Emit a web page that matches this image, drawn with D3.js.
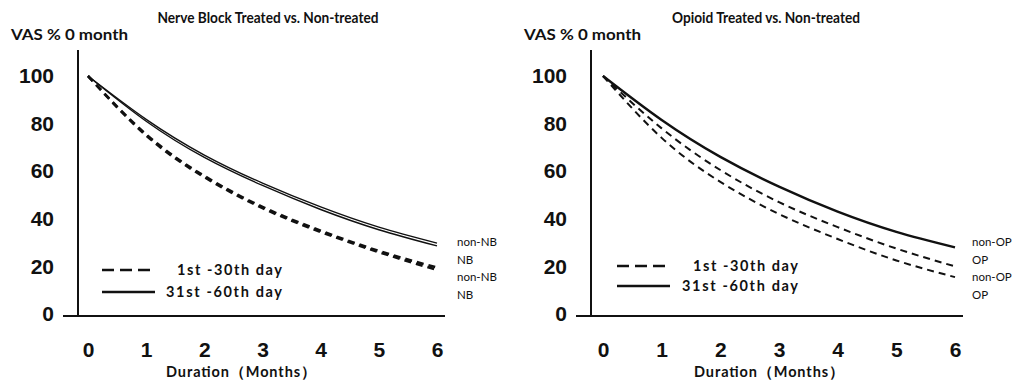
<!DOCTYPE html>
<html>
<head>
<meta charset="utf-8">
<script src="https://cdn.jsdelivr.net/npm/d3@7"></script>
<style>
  body { margin: 0; background: #fff; }
  .lbl { font-family: Lato, "Open Sans", sans-serif; font-weight: bold; fill: #111; }
  .tick text { font-family: "Liberation Sans", Arial, sans-serif; font-weight: bold; font-size: 21px; fill: #111; }
  .end { font-family: Lato, "Open Sans", sans-serif; font-size: 11.5px; fill: #111; }
</style>
</head>
<body>
<svg id="chart" width="1015" height="380"></svg>
<script>
// months on the x axis
const months = [0, 1, 2, 3, 4, 5, 6];
const yTicks = [0, 20, 40, 60, 80, 100];

// Nerve block panel (VAS % of month 0)
const nbLate_non = [100, 81.8, 66.8, 55, 45, 36.5, 29.8];
const nbLate_nb = [100, 81, 65.8, 54, 43.9, 35.4, 28.6];
const nbEarly_non = [100, 75.5, 58, 45, 35, 26.5, 19.5];
const nbEarly_nb = [100, 75, 57.5, 44.5, 34.5, 26, 18.5];

// Opioid panel
const opLate = [100, 81.5, 66, 53.5, 43, 34.5, 28];
const opEarly_non = [100, 78, 60.5, 47, 36.5, 27.5, 20];
const opEarly_op = [100, 74, 55.5, 42, 31.5, 22.5, 15.5];

const nbEndLabels = ["non-NB", "NB", "non-NB", "NB"];
const opEndLabels = ["non-OP", "OP", "non-OP", "OP"];

const svg = d3.select("#chart");

function drawPanel(opt) {
    const x = d3.scaleLinear().domain([0, 6]).range([opt.x0, opt.x1]);
    const y = d3.scaleLinear().domain([0, 100]).range([314, 76]);
    const g = svg.append("g");

    // axis lines (offset from the data origin like the original)
    g.append("line")
        .attr("x1", opt.axisX).attr("x2", opt.axisX)
        .attr("y1", 50).attr("y2", 316)
        .attr("stroke", "#111").attr("stroke-width", 2);
    g.append("line")
        .attr("x1", opt.axisX - 15).attr("x2", opt.x1 + 8)
        .attr("y1", 316).attr("y2", 316)
        .attr("stroke", "#111").attr("stroke-width", 2);

    // y axis labels
    const ya = g.append("g")
        .attr("transform", `translate(${opt.axisX},0)`)
        .call(d3.axisLeft(y).tickValues(yTicks).tickSize(0).tickPadding(24));
    ya.select(".domain").remove();

    // x axis labels
    const xa = g.append("g")
        .attr("transform", "translate(0,316)")
        .call(d3.axisBottom(x).tickValues(months).tickSize(0).tickPadding(26).tickFormat(d3.format("d")));
    xa.select(".domain").remove();

    const line = d3.line()
        .x((d, i) => x(months[i]))
        .y(d => y(d))
        .curve(d3.curveNatural);

    opt.series.forEach(s => {
        g.append("path")
            .datum(s.values)
            .attr("fill", "none")
            .attr("stroke", "#111")
            .attr("stroke-width", s.width)
            .attr("stroke-dasharray", s.dash || null)
            .attr("d", line);
    });

    // end-of-line labels
    g.selectAll(".end")
        .data(opt.endLabels)
        .enter().append("text")
        .attr("class", "end")
        .attr("x", opt.x1 + opt.endDx)
        .attr("y", (d, i) => 246 + i * 17.5)
        .text(d => d);

    // titles
    g.append("text").attr("class", "lbl")
        .attr("x", opt.titleX).attr("y", 23)
        .attr("text-anchor", "middle")
        .attr("textLength", opt.titleLen).attr("lengthAdjust", "spacingAndGlyphs")
        .style("font-size", "15px")
        .text(opt.title);
    g.append("text").attr("class", "lbl")
        .attr("x", opt.axisX - 67).attr("y", 40)
        .attr("textLength", 117).attr("lengthAdjust", "spacingAndGlyphs")
        .style("font-size", "15px")
        .text("VAS % 0 month");
    g.append("text").attr("class", "lbl")
        .attr("x", opt.durX).attr("y", 377)
        .attr("textLength", 150).attr("lengthAdjust", "spacing")
        .style("font-size", "14.5px")
        .text("Duration\uFF08Months\uFF09");

    // legend
    const lg = g.append("g").attr("transform", `translate(${opt.legX},${opt.legY})`);
    lg.append("line").attr("x1", 0).attr("x2", 53).attr("y1", 0).attr("y2", 0)
        .attr("stroke", "#111").attr("stroke-width", 2.5).attr("stroke-dasharray", "12,6");
    lg.append("line").attr("x1", 0).attr("x2", 53).attr("y1", opt.legGap).attr("y2", opt.legGap)
        .attr("stroke", "#111").attr("stroke-width", 2.5);
    lg.append("text").attr("class", "lbl").attr("x", opt.legT1).attr("y", 5)
        .attr("textLength", 105).attr("lengthAdjust", "spacing")
        .style("font-size", "14.5px").text("1st -30th day");
    lg.append("text").attr("class", "lbl").attr("x", opt.legT1 - 11).attr("y", opt.legGap + 5)
        .attr("textLength", 116).attr("lengthAdjust", "spacing")
        .style("font-size", "14.5px").text("31st -60th day");
}

drawPanel({
    x0: 88, x1: 437, axisX: 78, titleX: 268, titleLen: 221, durX: 166, endDx: 20,
    title: "Nerve Block Treated vs. Non-treated",
    legX: 102, legY: 270, legGap: 22, legT1: 75,
    endLabels: nbEndLabels,
    series: [
        { values: nbLate_non, width: 1.4 },
        { values: nbLate_nb, width: 1.4 },
        { values: nbEarly_non, width: 2.6, dash: "7,5" },
        { values: nbEarly_nb, width: 2.6, dash: "7,5" }
    ]
});

drawPanel({
    x0: 603, x1: 955, axisX: 591, titleX: 766, titleLen: 188, durX: 694, endDx: 17,
    title: "Opioid Treated vs. Non-treated",
    legX: 617, legY: 266, legGap: 20, legT1: 76,
    endLabels: opEndLabels,
    series: [
        { values: opLate, width: 2.4 },
        { values: opEarly_non, width: 2, dash: "7,5" },
        { values: opEarly_op, width: 2, dash: "7,5" }
    ]
});
</script>
</body>
</html>
